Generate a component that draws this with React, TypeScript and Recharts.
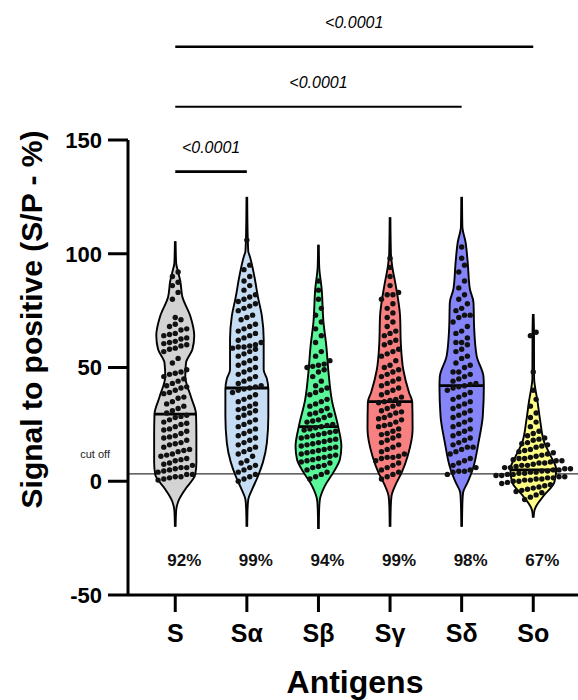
import React from 'react';
import { ComposedChart, Area, Scatter, XAxis, YAxis, ReferenceLine } from 'recharts';

const FONT = '"Liberation Sans", Arial, Helvetica, sans-serif';

// ---------- data ----------
const antigens = ['S', 'Sα', 'Sβ', 'Sγ', 'Sδ', 'So'];
const positivity = ['92%', '99%', '94%', '99%', '98%', '67%'];
const medians = [29.5, 41, 24, 35, 42, 5];
const violinFills = ['#d3d3d3', '#c6ddf4', '#5af79a', '#f88080', '#8585f8', '#ffff88'];
const cutOff = 3.2;
const yTicks = [-50, 0, 50, 100, 150];
const xTicks = [0, 1, 2, 3, 4, 5];

// violin outlines: [S/P value, relative half-width (density)]
const densityS: [number, number][] = [
  [105.5, 0.005], [96, 0.012], [92, 0.04], [88, 0.07], [81, 0.1], [72.6, 0.21], [64, 0.265],
  [58, 0.24], [52, 0.15], [46, 0.14], [37, 0.22], [29.5, 0.29], [20, 0.295], [8.4, 0.295],
  [3, 0.28], [-3.5, 0.14], [-9, 0.04], [-13, 0.012], [-20, 0.005],
];
const densitySa: [number, number][] = [
  [125, 0.005], [110, 0.01], [101, 0.02], [99, 0.04], [90, 0.105], [81, 0.155], [72.6, 0.21],
  [62.5, 0.235], [49, 0.235], [45, 0.28], [40.5, 0.3], [28.6, 0.3], [17, 0.28], [8.4, 0.225],
  [2.2, 0.155], [-3.5, 0.075], [-8, 0.02], [-12, 0.01], [-20, 0.005],
];
const densitySb: [number, number][] = [
  [104, 0.005], [94.6, 0.01], [84.5, 0.045], [70, 0.07], [59.4, 0.11], [48, 0.14], [36, 0.185],
  [24, 0.275], [15.4, 0.32], [9.7, 0.3], [4, 0.21], [-2, 0.09], [-8, 0.02], [-12, 0.01], [-21, 0.005],
];
const densitySg: [number, number][] = [
  [116, 0.005], [100, 0.012], [94.6, 0.03], [86, 0.08], [72.6, 0.14], [61, 0.15], [49, 0.185],
  [39, 0.265], [34.8, 0.31], [23, 0.315], [11, 0.245], [4, 0.165], [-2, 0.07], [-6.6, 0.02],
  [-11, 0.01], [-20, 0.005],
];
const densitySd: [number, number][] = [
  [125, 0.005], [112, 0.01], [105, 0.055], [96, 0.085], [84.5, 0.115], [78.7, 0.165], [67, 0.175],
  [55, 0.21], [46, 0.305], [41.8, 0.31], [28.6, 0.295], [17, 0.235], [5.3, 0.155], [-0.4, 0.085],
  [-5, 0.02], [-10, 0.01], [-20, 0.005],
];
const densitySo: [number, number][] = [
  [73.5, 0.005], [65.5, 0.01], [45, 0.012], [40.5, 0.03], [36, 0.055], [27, 0.095], [17, 0.155],
  [11, 0.245], [5.3, 0.32], [-0.4, 0.295], [-6.6, 0.14], [-11, 0.04], [-13, 0.015], [-16, 0.005],
];

// individual sample values
const valuesS = [
  92, 90, 87.5, 86, 83, 80, 72, 71, 69, 68, 67, 66.5, 65, 64.5, 64, 63, 62.5, 61.5, 61, 60.5, 60,
  59.5, 58.5, 58, 57, 54, 52, 49, 48, 47.5, 47, 46, 45, 44, 43, 42, 41.5, 41, 40, 39, 38.5, 37,
  36.5, 35, 34, 33, 32, 31, 30, 29, 28.5, 28, 27, 26, 25.5, 25, 24, 23, 22.5, 22, 21, 20, 19.5,
  19, 18, 17, 16.5, 16, 15, 14, 13.5, 13, 12, 11.5, 11, 10, 9.5, 9, 8, 7.5, 7, 6, 6, 5.5, 5, 4.5,
  4, 3, 3, 2, 2, 1.5, 1, 0.5,
];
const valuesSa = [
  106, 95, 93, 90, 88, 86, 84, 82, 81, 80, 79, 78, 77, 76, 75, 73, 72, 71, 69, 68, 67, 66, 65,
  64, 63, 62, 61, 60, 59.5, 59, 59, 58.5, 58, 57, 56, 55, 54, 53, 52, 51, 50, 49, 48, 47, 46, 45,
  44, 43, 42, 41.5, 41, 40.5, 40, 39, 38, 37, 36, 35, 34, 33, 32, 31.5, 31, 30, 29, 28, 27, 26, 25,
  24, 23, 22, 21, 20, 19, 18, 17, 16, 15, 14, 13, 12, 11, 9, 8, 7, 6, 5, 4, 3, 2, 1, 0,
];
const valuesSb = [
  88, 84, 80, 76, 73, 70, 67, 64, 61, 57, 55, 53, 51.5, 51, 50.5, 50, 49, 48, 46, 44, 42, 41, 40,
  39, 38, 36, 35, 34, 33, 32, 31, 30, 29.5, 29, 28, 27, 26.5, 26, 25, 24.5, 24, 23.5, 23, 22.5, 22,
  21.5, 21, 20.5, 20, 19.5, 19, 18.5, 18, 17.5, 17, 16.5, 16, 15.5, 15, 14.5, 14, 13.5, 13, 12.5,
  12, 11.5, 11, 10.5, 10, 9.5, 9, 8.5, 8, 7, 6.5, 6, 5, 4, 3, 2, 1,
];
const valuesSg = [
  98, 94, 90, 86, 83, 82, 82, 80, 78, 76, 74, 72, 70, 68, 66, 65, 64, 62, 61, 60, 58, 57, 56, 55,
  53, 51, 50, 49, 48, 47, 46, 45, 44, 43, 42, 41, 40, 39, 38, 37, 36, 35.5, 35, 34.5, 34, 33, 32,
  31, 30.5, 30, 29, 28, 27.5, 27, 26, 25, 24.5, 24, 23, 22, 21, 20.5, 20, 19, 18, 17, 16, 15, 14,
  13, 12, 11, 10.5, 10.5, 10, 9, 8, 7, 6, 5, 4, 3, 2, 1,
];
const valuesSd = [
  103, 98, 95, 92, 88, 85, 82, 80, 78, 76, 75, 73, 73, 72, 70, 68, 66, 65, 63, 61, 61, 60, 58, 57,
  55, 54, 52, 51, 50, 48, 48, 47, 46, 45, 44, 43, 42.5, 42, 41.5, 41, 40, 39, 38, 37, 36, 35, 34,
  33, 32, 31, 30, 29, 28, 27, 26, 25, 24, 23, 22, 21, 20, 19, 18, 17, 16, 15, 15, 14, 13, 12, 10,
  9, 8, 7, 6, 5, 4.4, 4.4, 4, 3,
];
const valuesSo = [
  65.5, 64, 48, 40, 36, 33, 30, 28, 26, 24, 22, 21, 20, 19, 18.5, 18, 17, 16.5, 16, 15.5, 15, 14,
  13.5, 13, 12.5, 12, 11.5, 11, 10.5, 10, 10, 9.5, 9, 9, 8.5, 8, 8, 7.5, 7, 7, 6.5, 6, 6, 5.5, 5.5,
  5, 5, 4.5, 4.5, 4, 4, 3.5, 3.5, 3, 3, 2.5, 2.5, 2, 2, 1.5, 1.5, 1, 1, 0.5, 0.5, 0, 0, -0.5, -1,
  -1.5, -2, -2.5, -3, -3.5, -4, -4.5, -5, -6, -7, -8,
];

const comparisonPairs = [[0, 1], [0, 4], [0, 5]];
const comparisonLevels = [136.1, 164.6, 191.0];
const comparisonP = ['<0.0001', '<0.0001', '<0.0001'];
const percentLevel = -34.6;

const densities = [densityS, densitySa, densitySb, densitySg, densitySd, densitySo];
const samples = [valuesS, valuesSa, valuesSb, valuesSg, valuesSd, valuesSo];

// ---------- layout helpers ----------
const ROW_H = 3.0; // value units per swarm row
const DOT_GAP = 0.08; // category units between dots in a row

function swarm(values: number[], center: number) {
  const sorted = [...values].sort((a, b) => a - b);
  const rows: number[][] = [];
  let cur: number[] = [];
  let start = -Infinity;
  for (const v of sorted) {
    if (v - start > ROW_H) {
      if (cur.length) rows.push(cur);
      cur = [v];
      start = v;
    } else cur.push(v);
  }
  if (cur.length) rows.push(cur);
  const pts: { x: number; v: number }[] = [];
  rows.forEach((row) => {
    const n = row.length;
    row.forEach((v, k) => {
      pts.push({ x: center + (k - (n - 1) / 2) * DOT_GAP, v });
    });
  });
  return pts;
}

function widthAt(d: [number, number][], v: number) {
  for (let i = 0; i < d.length - 1; i++) {
    const [v1, w1] = d[i];
    const [v2, w2] = d[i + 1];
    if ((v <= v1 && v >= v2) || (v >= v1 && v <= v2)) {
      return w1 + ((v - v1) / (v2 - v1)) * (w2 - w1);
    }
  }
  return 0;
}

const violinData = densities.map((d, i) => d.map(([v, w]) => ({ v, band: [i - w, i + w] })));
const dotData = samples.flatMap((vals, i) => swarm(vals, i));
const percentData = positivity.map((label, i) => ({ x: i, v: percentLevel, label }));

const YLabel = (props: any) => {
  const vb = props.viewBox || { x: 0, y: 140, width: 128, height: 455 };
  const cx = 42;
  const cy = vb.y + vb.height / 2 - 48;
  return (
    <text x={cx} y={cy} transform={`rotate(-90 ${cx} ${cy})`} textAnchor="middle" fontSize={30}
      fontWeight="bold" fontFamily={FONT} fill="#000">
      Signal to positive (S/P - %)
    </text>
  );
};

const XLabel = (props: any) => {
  const vb = props.viewBox || { x: 128, y: 595, width: 450, height: 105 };
  return (
    <text x={vb.x + vb.width / 2 + 2} y={vb.y + 98} textAnchor="middle" fontSize={32}
      fontWeight="bold" fontFamily={FONT} fill="#000">
      Antigens
    </text>
  );
};

const CutLabel = (props: any) => {
  const vb = props.viewBox || { x: 128, y: 474 };
  return (
    <text x={vb.x - 18} y={vb.y - 16} textAnchor="end" fontSize={11} fontFamily={FONT} fill="#222">
      cut off
    </text>
  );
};

export default function App() {
  return (
    <div style={{ position: 'absolute', left: 0, top: 0, width: 578, height: 700, background: '#fff' }}>
      <ComposedChart width={578} height={700} layout="vertical"
        margin={{ top: 140, right: 0, bottom: 0, left: 0 }}>
        <XAxis type="number" dataKey="x" domain={[-0.66, 5.625]} ticks={xTicks} interval={0}
          allowDataOverflow tickFormatter={(i: number) => antigens[i]} height={105}
          tickSize={17} tickMargin={12}
          axisLine={{ stroke: '#000', strokeWidth: 3 }} tickLine={{ stroke: '#000', strokeWidth: 3 }}
          tick={{ fontSize: 25, fontWeight: 'bold', fill: '#000', fontFamily: FONT }}
          label={{ content: XLabel }} />
        <YAxis type="number" dataKey="v" domain={[-50, 150]} ticks={yTicks} interval={0} reversed
          allowDataOverflow width={128} tickSize={20} tickMargin={6}
          axisLine={{ stroke: '#000', strokeWidth: 3 }} tickLine={{ stroke: '#000', strokeWidth: 3 }}
          tick={{ fontSize: 22, fontWeight: 'bold', fill: '#000', fontFamily: FONT }}
          label={{ content: YLabel }} />

        <ReferenceLine y={cutOff} stroke="#333" strokeWidth={1.3} zIndex={50} label={{ content: CutLabel }} />

        {violinData.map((data, i) => (
          <Area key={'v' + i} data={data} dataKey="band" type="monotone" fill={violinFills[i]}
            fillOpacity={1} stroke="#000" strokeWidth={1.9} dot={false} activeDot={false}
            isAnimationActive={false} />
        ))}

        {medians.map((m, i) => {
          const w = widthAt(densities[i], m);
          return (
            <ReferenceLine key={'m' + i} segment={[{ x: i - w, y: m }, { x: i + w, y: m }]}
              stroke="#000" strokeWidth={2.8} />
          );
        })}

        <Scatter data={dotData} isAnimationActive={false}
          shape={(p: any) => <circle cx={p.cx} cy={p.cy} r={2.7} fill="#111" />} />

        <Scatter data={percentData} isAnimationActive={false}
          shape={(p: any) => (
            <text x={p.cx + 9} y={p.cy + 6} textAnchor="middle" fontSize={17} fontWeight="bold"
              fontFamily={FONT} fill="#111">
              {p.payload.label}
            </text>
          )} />

        {comparisonPairs.map(([a, b], k) => (
          <ReferenceLine key={'c' + k} ifOverflow="visible"
            segment={[{ x: a, y: comparisonLevels[k] }, { x: b, y: comparisonLevels[k] }]}
            stroke="#000" strokeWidth={k === 1 ? 2 : 2.6}
            label={{ value: comparisonP[k], position: 'top', offset: 19, fontSize: 16,
              fontStyle: 'italic', fill: '#000', fontFamily: FONT }} />
        ))}
      </ComposedChart>
    </div>
  );
}
